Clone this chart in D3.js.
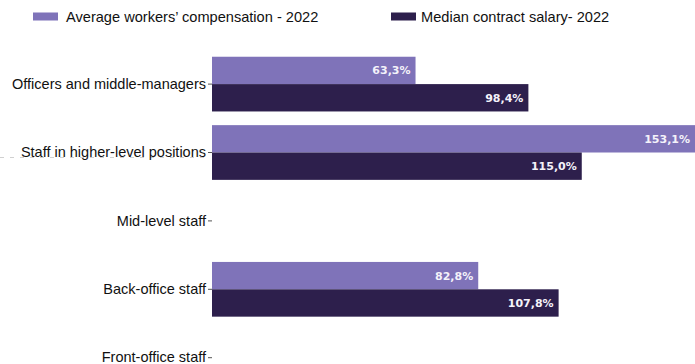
<!DOCTYPE html>
<html>
<head>
<meta charset="utf-8">
<script src="https://cdn.jsdelivr.net/npm/d3@7"></script>
<style>
  html, body { margin: 0; padding: 0; background: #fff; }
  svg { display: block; }
</style>
</head>
<body>
<svg id="chart" width="695" height="364"></svg>
<script>
// Categories (top to bottom) and the two series, in percent
const categories = [
  "Officers and middle-managers",
  "Staff in higher-level positions",
  "Mid-level staff",
  "Back-office staff",
  "Front-office staff"
];
const seriesNames = [
  "Average workers\u2019 compensation - 2022",
  "Median contract salary- 2022"
];
const avgCompensation = [63.3, 153.1, null, 82.8, null];
const medianSalary    = [98.4, 115.0, null, 107.8, null];
const seriesColors = ["#7f73b9", "#2d1f4c"];

const svg = d3.select("#chart");
const W = 695, H = 364;

const x = d3.scaleLinear().domain([0, 150]).range([212, 694.3]);
const y = d3.scaleBand().domain(categories)
  .range([49.9, 391.9]).paddingInner(0.2).paddingOuter(0.1);
const sub = d3.scaleBand().domain([0, 1]).range([0, y.bandwidth()]);

const fmt = v => d3.format(".1f")(v).replace(".", ",") + "%";

// Faint dotted rule left of the second category
svg.append("line")
  .attr("x1", 0).attr("x2", 205).attr("y1", 157.5).attr("y2", 157.5)
  .attr("stroke", "#d0d0d0").attr("stroke-width", 1)
  .attr("stroke-dasharray", "4,6");

// Bars (the longest runs past the right edge; its label stays inside the view)
const series = [avgCompensation, medianSalary];
series.forEach((vals, si) => {
  const rows = categories.map((c, i) => ({ c, v: vals[i] })).filter(d => d.v != null);
  const g = svg.append("g");
  g.selectAll("rect").data(rows).enter().append("rect")
    .attr("x", x(0))
    .attr("y", d => y(d.c) + sub(si))
    .attr("width", d => x(d.v) - x(0))
    .attr("height", sub.bandwidth())
    .attr("fill", seriesColors[si]);
  g.selectAll("text").data(rows).enter().append("text")
    .attr("x", d => Math.min(x(d.v), W) - 5)
    .attr("y", d => y(d.c) + sub(si) + sub.bandwidth() / 2)
    .attr("dy", "0.36em")
    .attr("text-anchor", "end")
    .attr("fill", "#f4f2fa")
    .attr("font-family", "DejaVu Sans, sans-serif")
    .attr("font-weight", "bold")
    .attr("font-size", "11px")
    .text(d => fmt(d.v));
});

// Category axis
const yAxis = d3.axisLeft(y).tickSize(4).tickPadding(2);
const ax = svg.append("g").attr("transform", `translate(${x(0)},0)`).call(yAxis);
ax.select(".domain").remove();
ax.selectAll(".tick line").attr("stroke", "#555");
ax.selectAll(".tick text")
  .attr("font-family", "Liberation Sans, Arial, sans-serif")
  .attr("font-size", "14.5px")
  .attr("fill", "#111");

// Legend
const legendX = [33, 391];
const legendTextX = [66, 421];
seriesNames.forEach((name, i) => {
  svg.append("rect")
    .attr("x", legendX[i]).attr("y", 12.5)
    .attr("width", 25).attr("height", 8)
    .attr("fill", seriesColors[i]);
  svg.append("text")
    .attr("x", legendTextX[i]).attr("y", 16.5)
    .attr("dy", "0.35em")
    .attr("font-family", "Liberation Sans, Arial, sans-serif")
    .attr("font-size", "14.6px")
    .attr("fill", "#111")
    .text(name);
});
</script>
</body>
</html>
